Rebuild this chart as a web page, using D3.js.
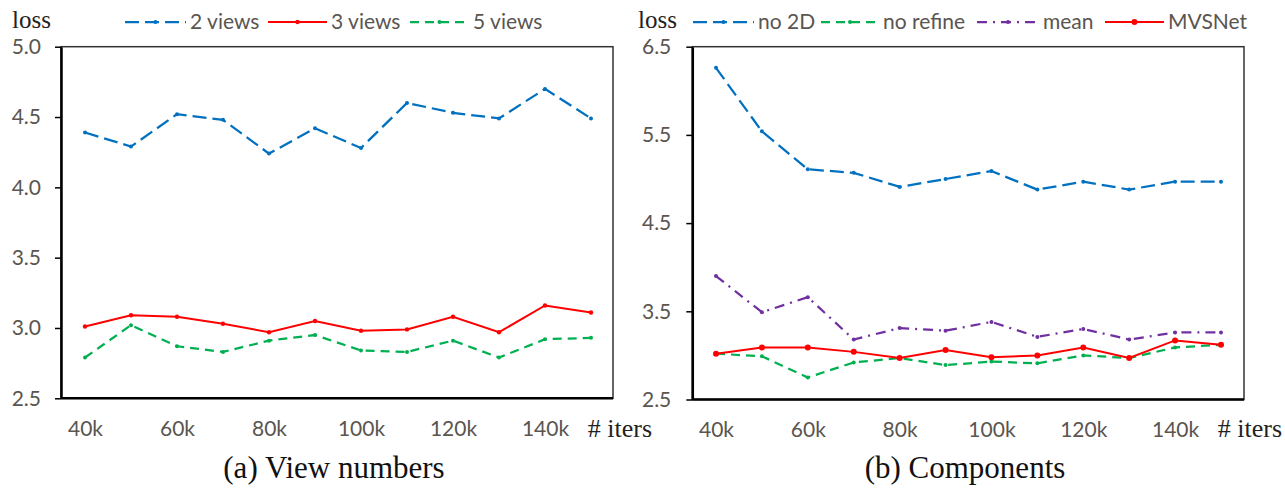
<!DOCTYPE html>
<html>
<head>
<meta charset="utf-8">
<script src="https://cdn.jsdelivr.net/npm/d3@7"></script>
<style>
  body { margin: 0; background: #fff; }
  .tick text { font-family: Lato, "Open Sans", sans-serif; fill: #5a5550; }
  .serif { font-family: "Liberation Serif", "DejaVu Serif", serif; fill: #222; }
  .legend text { font-family: Lato, "Open Sans", sans-serif; fill: #5a5550; font-size: 21px; }
</style>
</head>
<body>
<div id="chart"></div>
<script>
// training iterations (k)
var iters = [40, 50, 60, 70, 80, 90, 100, 110, 120, 130, 140, 150]
var xTicks = [40, 60, 80, 100, 120, 140]

// (a) view numbers
var views2 = [4.39, 4.29, 4.52, 4.48, 4.24, 4.42, 4.28, 4.60, 4.53, 4.49, 4.70, 4.49]
var views3 = [3.01, 3.09, 3.08, 3.03, 2.97, 3.05, 2.98, 2.99, 3.08, 2.97, 3.16, 3.11]
var views5 = [2.79, 3.02, 2.87, 2.83, 2.91, 2.95, 2.84, 2.83, 2.91, 2.79, 2.92, 2.93]
var leftTicks = [2.5, 3.0, 3.5, 4.0, 4.5, 5.0]

// (b) components
var no2D = [6.26, 5.54, 5.11, 5.07, 4.91, 5.00, 5.09, 4.88, 4.97, 4.88, 4.97, 4.97]
var noRefine = [3.02, 2.99, 2.75, 2.92, 2.97, 2.89, 2.93, 2.91, 3.00, 2.97, 3.09, 3.12]
var meanCost = [3.90, 3.49, 3.66, 3.18, 3.31, 3.28, 3.38, 3.21, 3.30, 3.18, 3.26, 3.26]
var mvsnet = [3.02, 3.09, 3.09, 3.04, 2.97, 3.06, 2.98, 3.00, 3.09, 2.97, 3.17, 3.12]
var rightTicks = [2.5, 3.5, 4.5, 5.5, 6.5]

var blue = "#0070C0", red = "#FF0000", green = "#00B050", purple = "#7030A0"

var svg = d3.select("#chart").append("svg")
  .attr("width", 1285)
  .attr("height", 488)

// Draws one panel with its box, axes, lines and legend
function panel(opt){
  var x = d3.scaleLinear().domain([40, 150]).range([opt.x0, opt.x1])
  var y = d3.scaleLinear().domain(opt.ydomain).range([opt.bottom, opt.top])

  var g = svg.append("g")

  // plot frame
  g.append("rect")
    .attr("x", opt.left).attr("y", opt.top)
    .attr("width", opt.right - opt.left).attr("height", opt.bottom - opt.top)
    .attr("fill", "none").attr("stroke", "#333").attr("stroke-width", 1.5)

  var yaxis = d3.axisLeft(y)
    .tickValues(opt.yticks)
    .tickFormat(d3.format(".1f"))
    .tickSize(6)
    .tickSizeOuter(0)
    .tickPadding(opt.ypad)

  var yg = g.append("g")
    .attr("transform", "translate(" + opt.left + ",0)")
    .call(yaxis)
  yg.select(".domain").attr("stroke", "#000").attr("stroke-width", 2.5)
  yg.selectAll(".tick line").attr("stroke", "#000").attr("stroke-width", 1.5)
  yg.selectAll(".tick text").style("font-size", "21px")

  var xaxis = d3.axisBottom(x)
    .tickValues(xTicks)
    .tickFormat(function(d){ return d + "k" })
    .tickSize(0)
    .tickSizeOuter(0)
    .tickPadding(23)

  var xg = g.append("g")
    .attr("transform", "translate(0," + opt.bottom + ")")
    .call(xaxis)
  xg.select(".domain").attr("d", "M" + opt.left + ",0H" + opt.right)
    .attr("stroke", "#000").attr("stroke-width", 2.5)
  xg.selectAll(".tick text").style("font-size", "21px")

  g.append("text").attr("class", "serif")
    .attr("x", opt.lossX).attr("y", 28)
    .style("font-size", "25px")
    .text("loss")

  g.append("text").attr("class", "serif")
    .attr("x", opt.itersX).attr("y", 437)
    .attr("text-anchor", "middle")
    .style("font-size", "26px")
    .text("# iters")

  g.append("text").attr("class", "serif")
    .attr("x", opt.captionX).attr("y", 478)
    .attr("text-anchor", "middle")
    .style("font-size", "31px")
    .style("fill", "#111")
    .text(opt.caption)

  var line = d3.line()
    .x(function(d, i){ return x(iters[i]) })
    .y(function(d){ return y(d) })

  opt.series.forEach(function(s){
    g.append("path")
      .datum(s.values)
      .attr("d", line)
      .attr("fill", "none")
      .attr("stroke", s.color)
      .attr("stroke-width", s.width)
      .attr("stroke-dasharray", s.dash)

    g.selectAll(null)
      .data(s.values)
      .enter()
      .append("circle")
      .attr("cx", function(d, i){ return x(iters[i]) })
      .attr("cy", function(d){ return y(d) })
      .attr("r", s.r)
      .attr("fill", s.color)

    // legend entry
    var lg = g.append("g").attr("class", "legend")
    lg.append("line")
      .attr("x1", s.lx).attr("x2", s.lx + s.lw)
      .attr("y1", 22).attr("y2", 22)
      .attr("stroke", s.color)
      .attr("stroke-width", s.width)
      .attr("stroke-dasharray", s.dash)
    lg.append("circle")
      .attr("cx", s.lx + s.lw / 2).attr("cy", 22)
      .attr("r", s.r).attr("fill", s.color)
    lg.append("text")
      .attr("x", s.lx + s.lw + 4).attr("y", 22)
      .attr("dy", "0.35em")
      .text(s.name)
  })
}

panel({
  left: 61, right: 613, top: 46.7, bottom: 398.3,
  x0: 85, x1: 591,
  ydomain: [2.5, 5.0], yticks: leftTicks, ypad: 14,
  lossX: 12, itersX: 620, captionX: 334,
  caption: "(a) View numbers",
  series: [
    {name: "2 views", values: views2, color: blue, width: 2.25, dash: "14,6", r: 2, lx: 125, lw: 61},
    {name: "3 views", values: views3, color: red, width: 2, dash: null, r: 2.2, lx: 268, lw: 59},
    {name: "5 views", values: views5, color: green, width: 2.25, dash: "9,6", r: 2, lx: 410, lw: 59}
  ]
})

panel({
  left: 692.3, right: 1244, top: 46.7, bottom: 399.5,
  x0: 716, x1: 1221,
  ydomain: [2.5, 6.5], yticks: rightTicks, ypad: 15,
  lossX: 638, itersX: 1250, captionX: 965,
  caption: "(b) Components",
  series: [
    {name: "no 2D", values: no2D, color: blue, width: 2.25, dash: "14,6", r: 2, lx: 693, lw: 61},
    {name: "no refine", values: noRefine, color: green, width: 2.25, dash: "9,6", r: 2, lx: 821, lw: 58},
    {name: "mean", values: meanCost, color: purple, width: 2.25, dash: "10,6,2,6", r: 2, lx: 977, lw: 62},
    {name: "MVSNet", values: mvsnet, color: red, width: 2, dash: null, r: 3, lx: 1105, lw: 59}
  ]
})
</script>
</body>
</html>
